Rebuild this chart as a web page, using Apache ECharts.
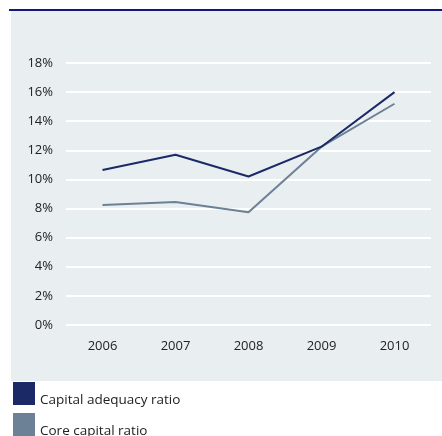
<!DOCTYPE html>
<html>
<head>
<meta charset="utf-8">
<script src="https://cdn.jsdelivr.net/npm/echarts@6/dist/echarts.min.js"></script>
<style>
  html, body { margin: 0; padding: 0; background: #fff; }
  #main { width: 442px; height: 436px; }
</style>
</head>
<body>
<div id="main"></div>
<script>
// values
var years = ['2006', '2007', '2008', '2009', '2010']
var capitalAdequacy = [10.65, 11.7, 10.2, 12.25, 16.0]
var coreCapital = [8.25, 8.45, 7.75, 12.25, 15.2]
var seriesNames = ['Capital adequacy ratio', 'Core capital ratio']
var colors = ['#1b2a66', '#6c8096']

var chart = echarts.init(document.getElementById('main'))

function legendItem (name, top) {
  return {
    orient: 'vertical',
    left: 13,
    top: top,
    padding: 0,
    icon: 'rect',
    itemWidth: 22,
    itemHeight: 23,
    selectedMode: false,
    formatter: '{t|{name}}',
    textStyle: {
      rich: {
        t: { fontSize: 13.5, color: '#222', fontFamily: 'Open Sans', padding: [14, 0, 0, 0] }
      }
    },
    data: [name]
  }
}

var option = {
  backgroundColor: '#fff',
  animation: false,
  color: colors,
  textStyle: { fontFamily: 'Open Sans' },
  graphic: [
    // grey panel behind the plot
    { type: 'rect', left: 11, top: 11, shape: { width: 431, height: 370 }, style: { fill: '#e9eef1' }, z: -10 },
    // navy rule at top
    { type: 'rect', left: 9, top: 9, shape: { width: 433, height: 2 }, style: { fill: '#17177a' }, z: -10 }
  ],
  legend: [
    legendItem(seriesNames[0], 382),
    legendItem(seriesNames[1], 413)
  ],
  grid: {
    left: 66,
    right: 11,
    top: 63,
    bottom: 111
  },
  xAxis: {
    type: 'category',
    data: years,
    boundaryGap: true,
    axisLine: { show: false },
    axisTick: { show: false },
    axisLabel: { margin: 15, fontSize: 13, color: '#222' }
  },
  yAxis: {
    type: 'value',
    min: 0,
    max: 18,
    interval: 2,
    axisLine: { show: false },
    axisTick: { show: false },
    axisLabel: { formatter: '{value}%', margin: 13, fontSize: 13, color: '#222' },
    splitLine: { lineStyle: { color: '#ffffff', width: 2 } }
  },
  series: [
    {
      name: seriesNames[0],
      type: 'line',
      symbol: 'none',
      data: capitalAdequacy,
      lineStyle: { width: 2, color: colors[0] },
      z: 3
    },
    {
      name: seriesNames[1],
      type: 'line',
      symbol: 'none',
      data: coreCapital,
      lineStyle: { width: 2, color: colors[1] },
      z: 2
    }
  ]
}

chart.setOption(option)
</script>
</body>
</html>
